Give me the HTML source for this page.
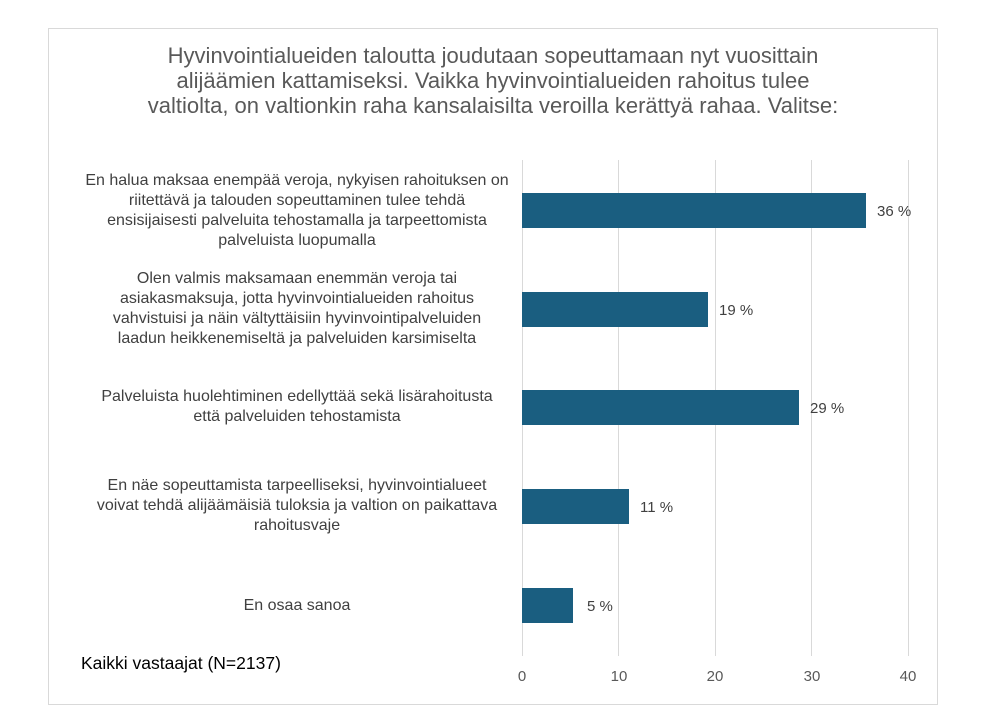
<!DOCTYPE html>
<html><head><meta charset="utf-8"><style>
body{margin:0;width:984px;height:727px;background:#fff;position:relative;font-family:"Liberation Sans",sans-serif;overflow:hidden}
.frame{position:absolute;left:48px;top:28px;width:890px;height:677px;border:1px solid #d9d9d9;box-sizing:border-box}
.t{position:absolute;left:48px;width:890px;top:43px;text-align:center;font-size:22px;line-height:25px;color:#595959}
.g{position:absolute;top:160px;height:496px;width:1px;background:#d9d9d9}
.b{position:absolute;left:522px;height:35px;background:#1a5e80}
.v{position:absolute;font-size:15px;color:#404040}
.l{position:absolute;left:37px;width:520px;text-align:center;font-size:16px;line-height:20px;color:#404040}
.x{position:absolute;top:668px;font-size:15px;color:#595959;width:30px;margin-left:-15px;text-align:center}
</style></head><body>
<div class="frame"></div>
<div class="t">Hyvinvointialueiden taloutta joudutaan sopeuttamaan nyt vuosittain<br>alijäämien kattamiseksi. Vaikka hyvinvointialueiden rahoitus tulee<br>valtiolta, on valtionkin raha kansalaisilta veroilla kerättyä rahaa. Valitse:</div>
<div class="g" style="left:522px"></div><div class="g" style="left:618px"></div><div class="g" style="left:715px"></div><div class="g" style="left:811px"></div><div class="g" style="left:908px"></div>
<div class="b" style="top:193px;width:344px"></div><div class="v" style="left:877px;top:203px">36 %</div>
<div class="b" style="top:292px;width:186px"></div><div class="v" style="left:719px;top:302px">19 %</div>
<div class="b" style="top:390px;width:277px"></div><div class="v" style="left:810px;top:400px">29 %</div>
<div class="b" style="top:489px;width:107px"></div><div class="v" style="left:640px;top:499px">11 %</div>
<div class="b" style="top:588px;width:51px"></div><div class="v" style="left:587px;top:598px">5 %</div>
<div class="l" style="top:171px">En halua maksaa enempää veroja, nykyisen rahoituksen on<br>riitettävä ja talouden sopeuttaminen tulee tehdä<br>ensisijaisesti palveluita tehostamalla ja tarpeettomista<br>palveluista luopumalla</div>
<div class="l" style="top:269px">Olen valmis maksamaan enemmän veroja tai<br>asiakasmaksuja, jotta hyvinvointialueiden rahoitus<br>vahvistuisi ja näin vältyttäisiin hyvinvointipalveluiden<br>laadun heikkenemiseltä ja palveluiden karsimiselta</div>
<div class="l" style="top:387px">Palveluista huolehtiminen edellyttää sekä lisärahoitusta<br>että palveluiden tehostamista</div>
<div class="l" style="top:476px">En näe sopeuttamista tarpeelliseksi, hyvinvointialueet<br>voivat tehdä alijäämäisiä tuloksia ja valtion on paikattava<br>rahoitusvaje</div>
<div class="l" style="top:596px">En osaa sanoa</div>
<div style="position:absolute;left:81px;top:653px;font-size:17.5px;color:#000">Kaikki vastaajat (N=2137)</div>
<div class="x" style="left:522px">0</div><div class="x" style="left:619px">10</div><div class="x" style="left:715px">20</div><div class="x" style="left:812px">30</div><div class="x" style="left:908px">40</div>
</body></html>
